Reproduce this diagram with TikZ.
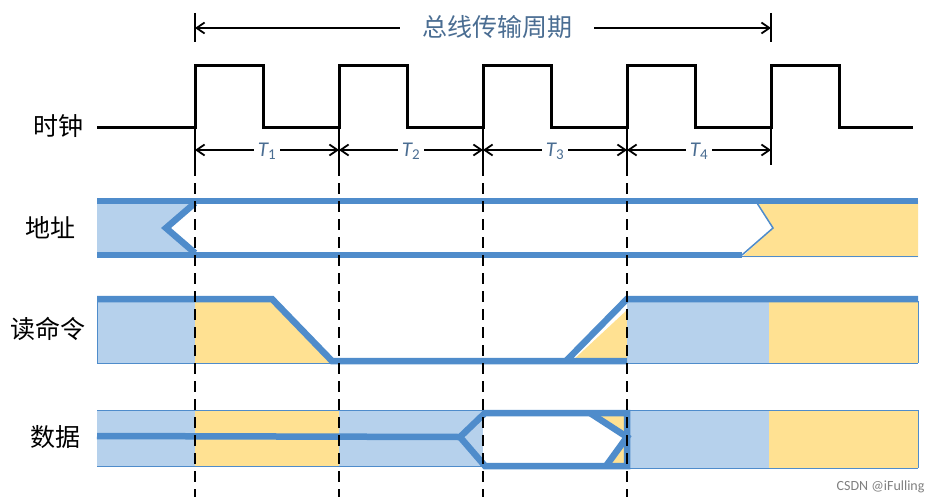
\documentclass[tikz,border=0pt]{standalone}
\usepackage{fontspec}
\newfontfamily\cjk{Noto Sans CJK SC}
\setsansfont{Carlito}
\usetikzlibrary{arrows.meta}
\definecolor{bl}{HTML}{4F8CCB}
\definecolor{lb}{HTML}{B6D1EC}
\definecolor{yl}{HTML}{FFE192}
\definecolor{tx}{HTML}{4A6D92}
\begin{document}
\begin{tikzpicture}[x=1pt,y=-1pt,
  thk/.style={bl,line width=6.5pt,line join=miter},
  dsh/.style={black,line width=2.4pt,dash pattern=on 11pt off 7pt},
  dim/.style={black,line width=1.8pt,{Straight Barb[length=8pt,width=11pt]}-{Straight Barb[length=8pt,width=11pt]}},
  lab/.style={font=\cjk\fontsize{25}{25}\selectfont,anchor=center},
  tl/.style={font=\sffamily\itshape\fontsize{21}{21}\selectfont,text=tx,fill=white,inner sep=4pt}]
\useasboundingbox (0,0) rectangle (933,503);
\fill[white] (0,0) rectangle (933,503);
% labels
\node[lab] (clk) at (58,126) {时钟};
\node[lab] (adr) at (50,228) {地址};
\node[lab] (rd) at (48,329) {读命令};
\node[lab] (dat) at (55,437) {数据};
% bus period
\draw[black,line width=1.8pt] (195,13)--(195,42) (771,13)--(771,42);
\coordinate (b1) at (195,28); \coordinate (b2) at (771,28);
\draw[dim] (b1)--(b2);
\node[font=\cjk\fontsize{25}{25}\selectfont,text=tx,fill=white,inner xsep=22pt] (bus) at (497,27) {总线传输周期};
% clock
\draw[black,line width=3pt] (97,127)--(195,127)--(195,65)--(263,65)--(263,127)--(339,127)--(339,65)--(407,65)--(407,127)--(483,127)--(483,65)--(551,65)--(551,127)--(627,127)--(627,65)--(695,65)--(695,127)--(771,127)--(771,65)--(839,65)--(839,127)--(913,127);
% T arrows
\foreach \a/\b/\n in {195/339/1,339/483/2,483/627/3,627/771/4}{
  \draw[black,line width=1.8pt] (\a,122)--(\a,165) (\b,122)--(\b,165);
  \coordinate (ta\n) at (\a,150); \coordinate (tb\n) at (\b,150);
  \draw[dim] (ta\n)--(tb\n);
  \node[tl] (t\n) at ({(\a+\b)/2},151) {T\textsubscript{\upshape\fontsize{15}{15}\selectfont\n}};
}
% address
\fill[lb] (97,201)--(195,201)--(166,228)--(195,255)--(97,255)--cycle;
\fill[yl] (757,201)--(918,201)--(918,257)--(742,257)--(773,228)--cycle;
\draw[thk] (97,201)--(918,201);
\draw[thk] (97,255)--(742,255);
\draw[bl,line width=1pt] (742,256)--(918,256);
\draw[thk] (195,203)--(166,228)--(195,253);
\draw[bl,line width=1.5pt] (757,203)--(773,228)--(742,255);
% read
\fill[lb] (97,301) rectangle (195,363);
\fill[yl] (195,301)--(272,301)--(332,363)--(195,363)--cycle;
\fill[yl] (627,310)--(627,363)--(570,363)--cycle;
\fill[lb] (627,301) rectangle (769,363);
\fill[yl] (769,301) rectangle (918,363);
\draw[thk] (97,299)--(272,299)--(332,361)--(627,361);
\draw[thk] (566,361)--(627,299)--(918,299);
\draw[bl,line width=1pt] (97,363)--(332,363) (627,363)--(918,363) (918,301)--(918,363) (97,301)--(97,363);
% data
\fill[lb] (97,410) rectangle (195,466);
\fill[yl] (195,410) rectangle (339,466);
\fill[lb] (339,410) rectangle (483,466);
\fill[yl] (590,413)--(627,413)--(627,437)--cycle;
\fill[yl] (627,437)--(627,466)--(606,466)--cycle;
\fill[lb] (627,410) rectangle (769,468);
\fill[yl] (769,410) rectangle (918,468);
\draw[bl,line width=1pt] (97,410)--(483,410) (97,466)--(483,466) (627,410)--(918,410) (627,468)--(918,468) (918,410)--(918,468);
\draw[thk] (97,436)--(460,437)--(485,413)--(627,413)--(627,466)--(485,466)--(460,437);
\draw[thk] (590,413)--(627,437)--(606,466);
% dashed lines
\foreach \x in {195,339,483,627}{\draw[dsh] (\x,165)--(\x,497);}
\node[font=\sffamily\fontsize{14}{14}\selectfont,text=gray,anchor=east] (wm) at (928,487) {CSDN @iFulling};
\end{tikzpicture}
\end{document}
